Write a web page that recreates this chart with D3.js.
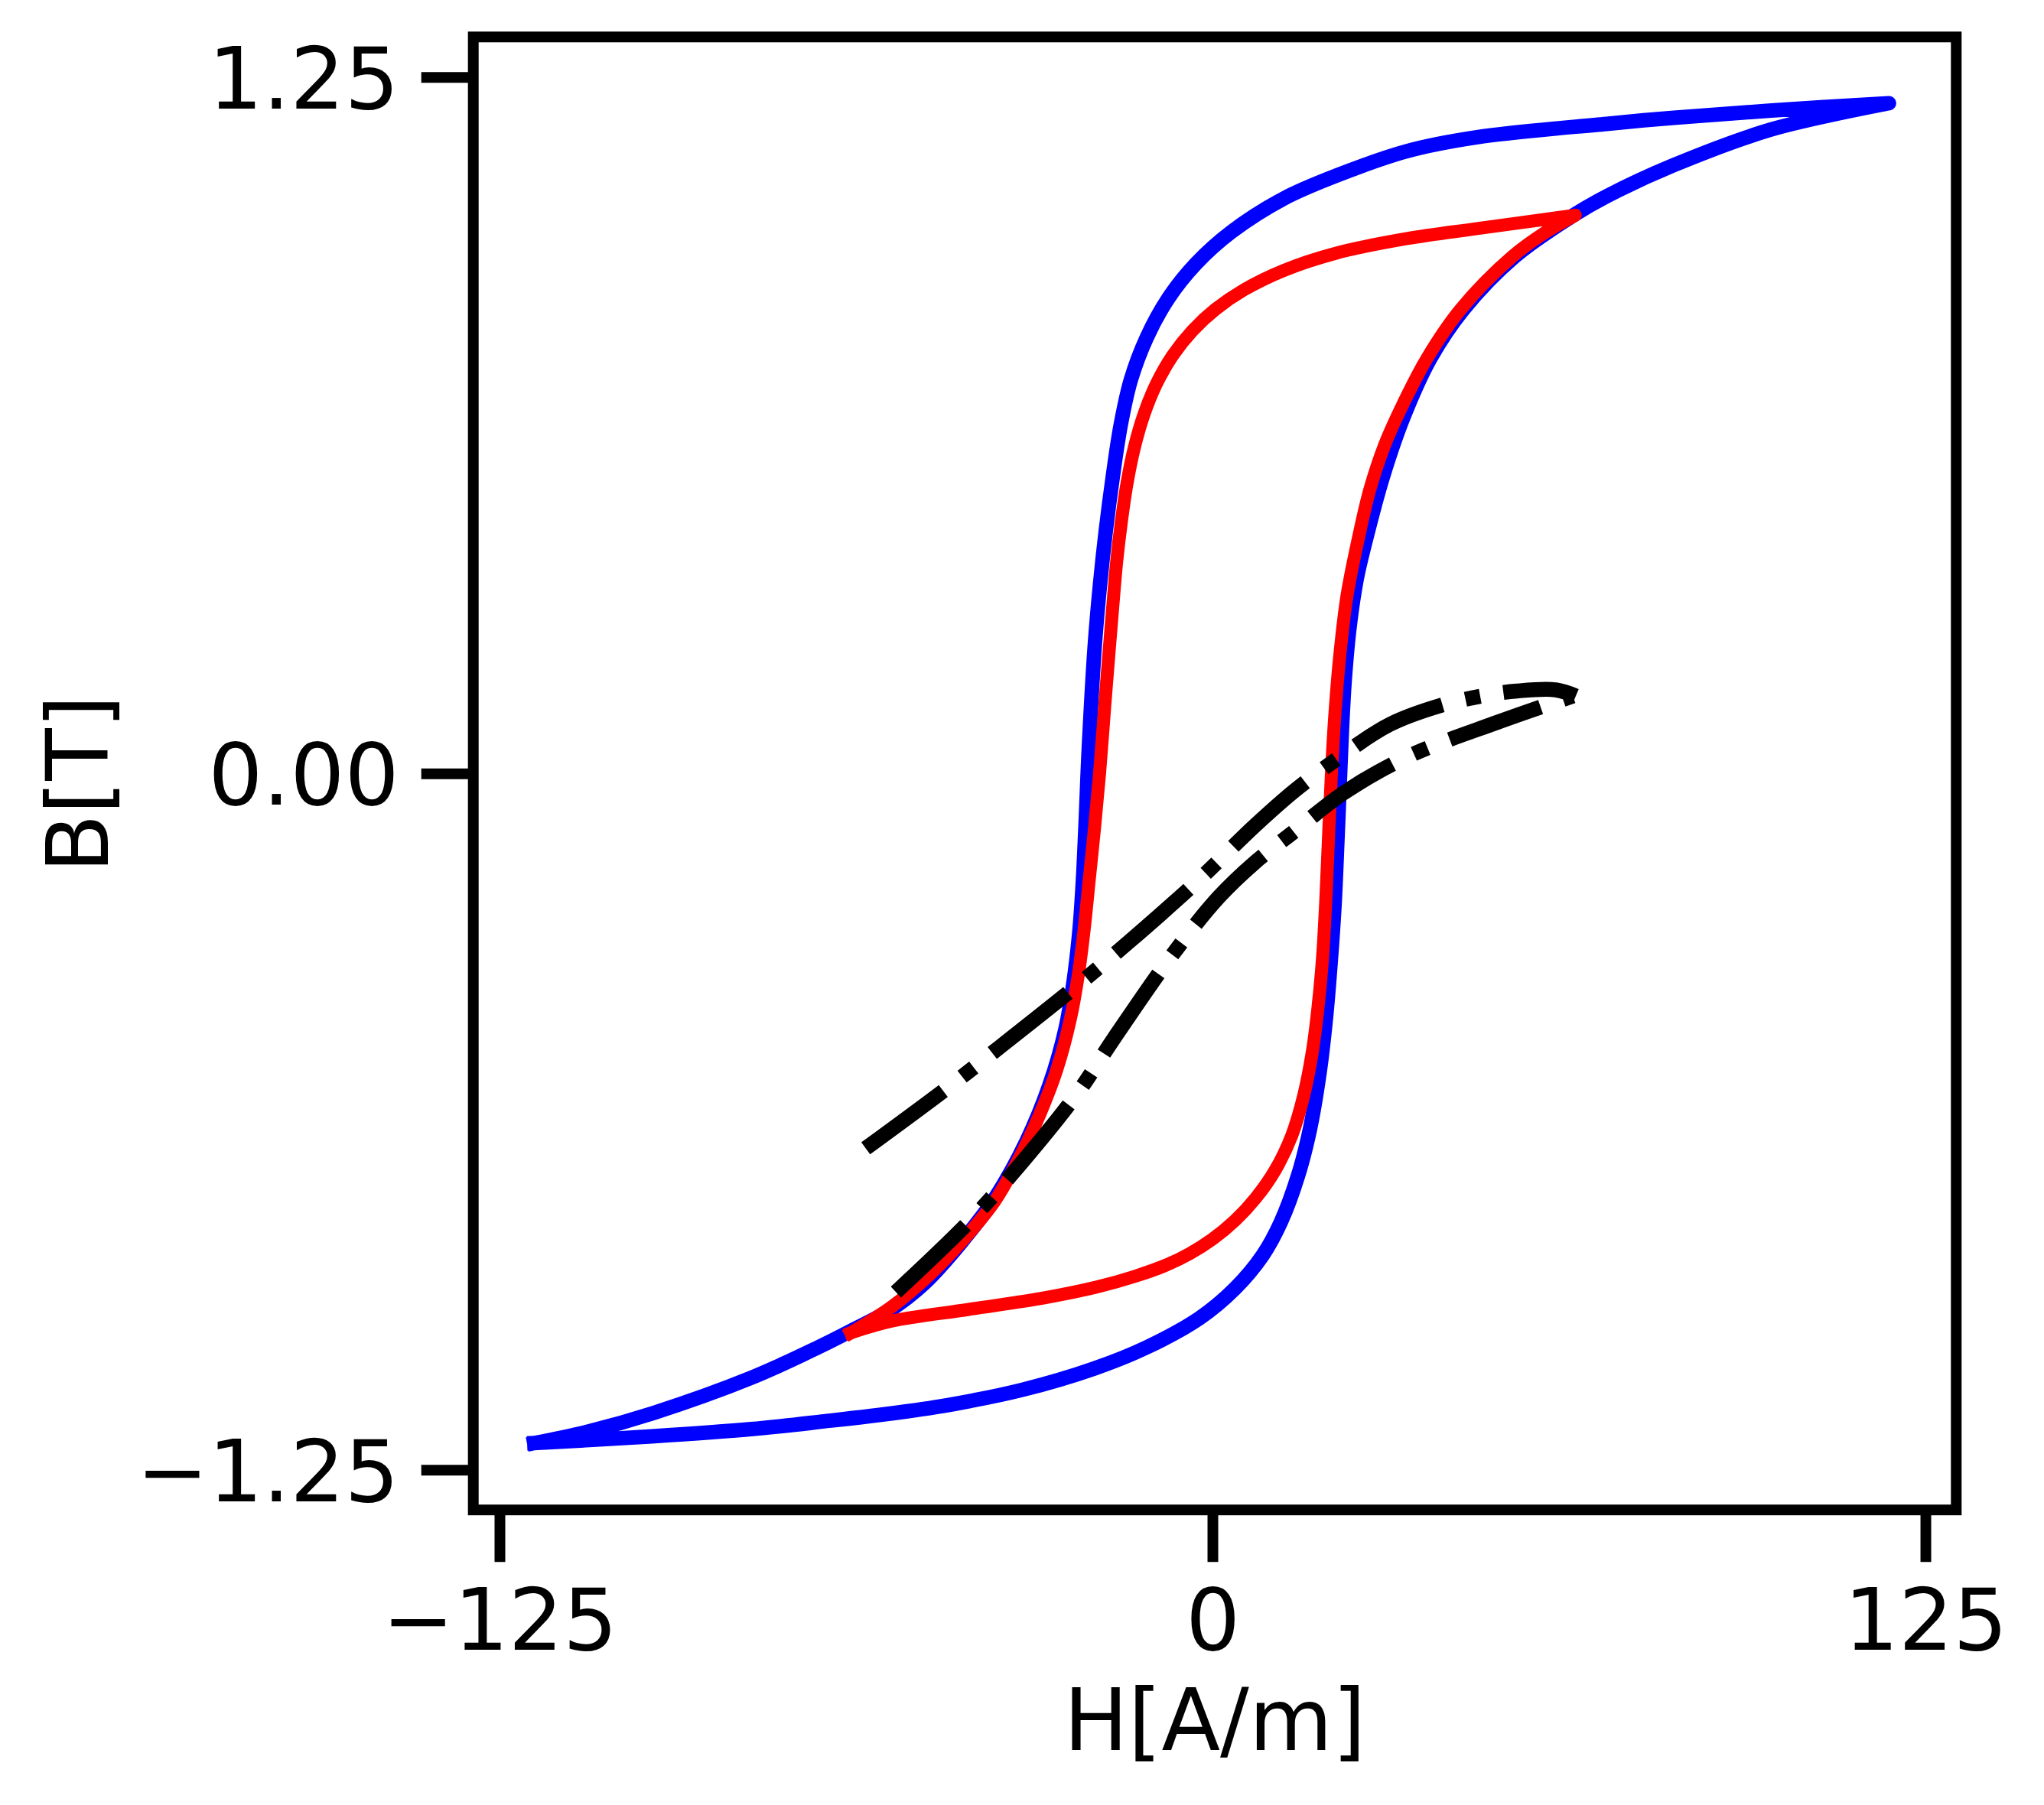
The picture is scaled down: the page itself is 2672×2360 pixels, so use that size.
<!DOCTYPE html>
<html><head><meta charset="utf-8">
<script src="https://cdn.jsdelivr.net/npm/d3@7"></script>
<style>body{margin:0;background:#fff}svg{display:block}</style>
</head><body>
<svg id="chart" width="2672" height="2360"></svg>
<script>
// ---------- data ----------
const xTicks = [-125, 0, 125];
const yTicks = [-1.25, 0, 1.25];
const xDomain = [-129.6, 130.4];
const yDomain = [-1.322, 1.322];
const xLabel = "H[A/m]";
const yLabel = "B[T]";

// major loop (blue): ascending branch (left tip -> right tip)
const blueUpH = [-118.9, -98.3, -80.9, -68.1, -55.0, -45.4, -33.2, -20.7, -11.5, -2.3, 3.9, 8.8, 12.0, 15.0, 17.1, 18.8, 19.9, 20.7, 21.4, 21.9, 22.3, 22.7, 23.2, 24.0, 25.3, 27.1, 29.8, 33.5, 38.2, 44.0, 53.0, 63.0, 69.1, 80.9, 98.0, 118.6];
const blueUpB = [-1.202, -1.19, -1.177, -1.163, -1.147, -1.132, -1.106, -1.068, -1.030, -0.978, -0.925, -0.865, -0.805, -0.722, -0.638, -0.535, -0.438, -0.341, -0.235, -0.12, -0.02, 0.08, 0.17, 0.26, 0.35, 0.428, 0.53, 0.64, 0.745, 0.833, 0.928, 1.0, 1.036, 1.092, 1.156, 1.203];
// major loop (blue): descending branch (right tip -> left tip)
const blueDownH = [118.6, 98.0, 80.9, 69.1, 46.4, 34.1, 21.7, 12.5, 3.3, -2.9, -7.8, -11.5, -14.3, -16.1, -17.5, -18.7, -19.7, -20.6, -21.3, -21.8, -22.2, -22.7, -23.3, -24.3, -25.8, -28.6, -32.6, -38.0, -43.9, -50.5, -56.5, -62.9, -69.1, -80.9, -98.0, -109.7, -118.9];
const blueDownB = [1.203, 1.19, 1.177, 1.166, 1.142, 1.117, 1.073, 1.032, 0.972, 0.915, 0.852, 0.783, 0.707, 0.625, 0.531, 0.436, 0.341, 0.235, 0.12, 0.02, -0.08, -0.19, -0.28, -0.37, -0.46, -0.56, -0.66, -0.76, -0.84, -0.915, -0.963, -0.998, -1.03, -1.085, -1.148, -1.182, -1.202];

// minor loop (red): ascending branch (left tip -> right tip)
const redUpH = [-63.4, -56.2, -42.7, -29.3, -20.3, -13.7, -8.0, -4.0, 0.0, 4.0, 7.6, 11.0, 13.9, 16.0, 17.5, 18.5, 19.3, 19.9, 20.4, 20.9, 21.5, 22.4, 23.6, 25.7, 27.6, 30.2, 33.5, 37.6, 43.5, 52.6, 58.5, 63.6];
const redUpB = [-1.004, -0.983, -0.962, -0.941, -0.922, -0.903, -0.882, -0.862, -0.836, -0.802, -0.762, -0.712, -0.650, -0.578, -0.500, -0.420, -0.330, -0.220, -0.100, 0.010, 0.112, 0.220, 0.320, 0.428, 0.510, 0.590, 0.665, 0.745, 0.833, 0.928, 0.972, 1.002];
// minor loop (red): descending branch (right tip -> left tip)
const redDownH = [63.6, 46.4, 34.1, 21.7, 12.5, 5.5, 0.5, -3.5, -7.0, -9.8, -12.0, -13.7, -15.0, -16.0, -16.8, -17.4, -18.0, -18.9, -19.8, -20.7, -21.6, -22.5, -23.5, -24.9, -27.3, -30.2, -33.8, -38.2, -43.6, -49.5, -56.2, -63.4];
const redDownB = [1.002, 0.978, 0.960, 0.934, 0.903, 0.868, 0.833, 0.795, 0.750, 0.700, 0.645, 0.585, 0.520, 0.450, 0.380, 0.310, 0.235, 0.12, 0.0, -0.1, -0.19, -0.28, -0.36, -0.44, -0.532, -0.610, -0.689, -0.768, -0.836, -0.899, -0.957, -1.004];

// black dash-dot curves
const blackAH = [-60.8, -46.8, -37.4, -23.3, -14.6, -2.5, 7.4, 14.5, 21.7, 31.1, 40.0, 47.7, 53.4, 60.2, 63.7];
const blackAB = [-0.673, -0.567, -0.492, -0.377, -0.302, -0.192, -0.094, -0.030, 0.025, 0.088, 0.122, 0.140, 0.148, 0.150, 0.139];
const blackBH = [-55.5, -42.7, -34.9, -23.9, -17.3, -7.0, 1.1, 7.4, 14.1, 23.0, 34.2, 50.0, 63.2];
const blackBB = [-0.931, -0.805, -0.716, -0.577, -0.476, -0.325, -0.222, -0.160, -0.106, -0.035, 0.030, 0.092, 0.139];

// ---------- drawing ----------
const svg = d3.select("#chart");
const FONT = "DejaVu Sans";
const FS = 112;

const x = d3.scaleLinear().domain(xDomain).range([618.7, 2557.3]);
const y = d3.scaleLinear().domain(yDomain).range([1974.2, 48.3]);

const zip = (hs, bs) => hs.map((h, i) => ({h, b: bs[i]}));
const line = d3.line().x(d => x(d.h)).y(d => y(d.b)).curve(d3.curveCatmullRom.alpha(0.5));
const loopPath = (upH, upB, dnH, dnB) => line(zip(upH, upB)) + line(zip(dnH, dnB)).replace(/^M/, "L");

svg.append("clipPath").attr("id", "clip").append("rect")
  .attr("x", x(xDomain[0])).attr("y", y(yDomain[1]))
  .attr("width", x(xDomain[1]) - x(xDomain[0])).attr("height", y(yDomain[0]) - y(yDomain[1]));
const plot = svg.append("g").attr("clip-path", "url(#clip)");

plot.append("path").attr("d", loopPath(blueUpH, blueUpB, blueDownH, blueDownB))
  .attr("fill", "none").attr("stroke", "#0000ff").attr("stroke-width", 19)
  .attr("stroke-linecap", "square").attr("stroke-linejoin", "round");
plot.append("path").attr("d", loopPath(redUpH, redUpB, redDownH, redDownB))
  .attr("fill", "none").attr("stroke", "#ff0000").attr("stroke-width", 17)
  .attr("stroke-linecap", "square").attr("stroke-linejoin", "round");
[[blackAH, blackAB], [blackBH, blackBB]].forEach(([hs, bs]) => {
  plot.append("path").attr("d", line(zip(hs, bs)))
    .attr("fill", "none").attr("stroke", "#000").attr("stroke-width", 19.5)
    .attr("stroke-dasharray", "126 31 19.5 31").attr("stroke-linecap", "butt");
});

// frame
svg.append("rect")
  .attr("x", x(xDomain[0])).attr("y", y(yDomain[1]))
  .attr("width", x(xDomain[1]) - x(xDomain[0])).attr("height", y(yDomain[0]) - y(yDomain[1]))
  .attr("fill", "none").attr("stroke", "#000").attr("stroke-width", 14);

// axes
const xAxis = svg.append("g").attr("transform", `translate(0,${y(yDomain[0])})`)
  .call(d3.axisBottom(x).tickValues(xTicks).tickFormat(d3.format("d")).tickSize(68).tickPadding(35));
const yAxis = svg.append("g").attr("transform", `translate(${x(xDomain[0])},0)`)
  .call(d3.axisLeft(y).tickValues(yTicks).tickFormat(d3.format(".2f")).tickSize(68).tickPadding(29));
[xAxis, yAxis].forEach(g => {
  g.select(".domain").remove();
  g.selectAll(".tick line").attr("stroke", "#000").attr("stroke-width", 14);
  g.selectAll(".tick text").attr("fill", "#000").attr("font-family", FONT).attr("font-size", FS);
});
yAxis.selectAll(".tick text").attr("dy", "0.36em");

svg.append("text").attr("x", (x(xDomain[0]) + x(xDomain[1])) / 2).attr("y", 2288)
  .attr("text-anchor", "middle").attr("font-family", FONT).attr("font-size", FS).text(xLabel);
svg.append("text").attr("transform", "translate(141,1025) rotate(-90)")
  .attr("text-anchor", "middle").attr("font-family", FONT).attr("font-size", FS).text(yLabel);
</script>
</body></html>
